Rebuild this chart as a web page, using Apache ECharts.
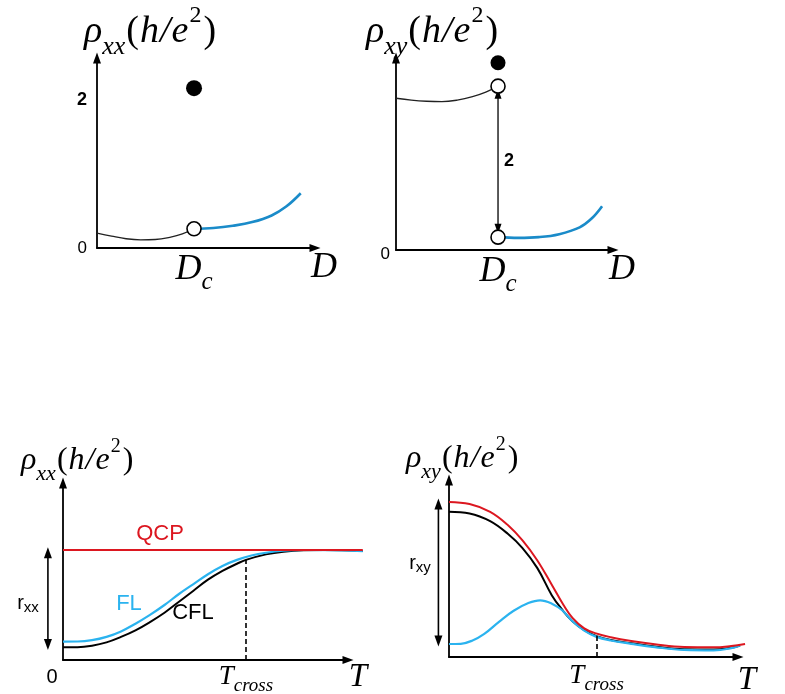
<!DOCTYPE html>
<html>
<head>
<meta charset="utf-8">
<script src="https://cdn.jsdelivr.net/npm/echarts@6/dist/echarts.min.js"></script>
<style>
  html, body { margin: 0; padding: 0; background: #ffffff; }
  #chart { width: 785px; height: 694px; }
</style>
</head>
<body>
<div id="chart"></div>
<script>
// ---------- Top row: resistivity against disorder D (critical point D_c = 1) ----------
const dCritical = 1;
const rhoXXBelowDc = [[0, 0.20], [0.15, 0.16], [0.3, 0.125], [0.45, 0.11], [0.6, 0.115], [0.75, 0.145], [0.88, 0.19], [1, 0.26]];
const rhoXXAboveDc = [[1, 0.26], [1.2, 0.27], [1.4, 0.30], [1.6, 0.35], [1.8, 0.44], [1.95, 0.56], [2.1, 0.74]];
const rhoXXAtDc = [[1, 2.16]];
const rhoXXLimitAtDc = [[1, 0.26]];
const rhoXXTicks = [0, 2];

const rhoXYBelowDc = [[0, 2.01], [0.15, 1.985], [0.3, 1.97], [0.45, 1.965], [0.6, 1.985], [0.75, 2.03], [0.88, 2.09], [1, 2.17]];
const rhoXYAboveDc = [[1, 0.17], [1.2, 0.16], [1.4, 0.17], [1.6, 0.21], [1.8, 0.30], [1.92, 0.42], [2.02, 0.58]];
const rhoXYAtDc = [[1, 2.48]];
const rhoXYLimitsAtDc = [[1, 2.17], [1, 0.17]];
const rhoXYJump = [2.07, 0.28];          // span of the quantised jump arrow
const rhoXYJumpLabel = '2';
const rhoXYTicks = [0];

// ---------- Bottom row: temperature dependence ----------
const tCrossXX = 6.31;
const tempQCPxx = [[0, 1.0], [5, 1.0], [10.34, 1.0]];
const tempFLxx = [[0, 0.167], [0.5, 0.168], [1.0, 0.18], [1.5, 0.21], [2.0, 0.26], [2.5, 0.33], [3.0, 0.41],
                  [3.5, 0.50], [4.0, 0.60], [4.5, 0.69], [5.0, 0.78], [5.5, 0.855], [6.0, 0.91], [6.5, 0.95],
                  [7.0, 0.975], [7.6, 0.993], [8.3, 1.0], [10.34, 0.99]];
const tempCFLxx = [[0, 0.115], [0.5, 0.116], [1.0, 0.13], [1.5, 0.16], [2.0, 0.21], [2.5, 0.27], [3.0, 0.345],
                   [3.5, 0.43], [4.0, 0.53], [4.5, 0.63], [5.0, 0.73], [5.5, 0.81], [6.0, 0.875], [6.31, 0.91],
                   [7.0, 0.96], [7.6, 0.985], [8.3, 0.998], [9.0, 1.0], [10.34, 0.99]];
const rangeXX = [0.14, 0.975];          // r_xx arrow span (between arrow-head centres)
const labelsXX = { qcp: 'QCP', fl: 'FL', cfl: 'CFL', range: 'xx' };

const tCrossXY = 5.02;
const tempQCPxy = [[0, 1.41], [0.7, 1.39], [1.4, 1.32], [2.0, 1.20], [2.5, 1.06], [3.0, 0.88], [3.5, 0.655],
                   [3.9, 0.47], [4.2, 0.355], [4.6, 0.26], [5.0, 0.215], [5.5, 0.18], [6.2, 0.145], [7.0, 0.115],
                   [8.0, 0.09], [9.0, 0.088], [9.6, 0.10], [10.07, 0.118]];
const tempCFLxy = [[0, 1.32], [0.7, 1.305], [1.4, 1.235], [2.0, 1.12], [2.5, 0.99], [3.0, 0.81], [3.5, 0.56],
                   [3.85, 0.43], [4.2, 0.325], [4.6, 0.245], [5.02, 0.19], [5.5, 0.155], [6.2, 0.125], [7.0, 0.095],
                   [8.0, 0.07], [9.0, 0.068], [9.6, 0.085], [9.9, 0.105]];
const tempFLxy = [[0, 0.118], [0.4, 0.12], [0.8, 0.15], [1.2, 0.21], [1.7, 0.32], [2.2, 0.42], [2.7, 0.49],
                  [3.1, 0.515], [3.5, 0.485], [3.85, 0.425], [4.2, 0.325], [4.6, 0.24], [5.0, 0.185], [5.5, 0.15],
                  [6.2, 0.12], [7.0, 0.09], [8.0, 0.064], [9.0, 0.06], [9.6, 0.08], [9.9, 0.104]];
const rangeXY = [1.39, 0.145];          // r_xy arrow span (between arrow-head centres)

// ---------- styling ----------
const SERIF = 'Liberation Serif';
const SANS = 'Liberation Sans';
const RED = '#dc1720';
const SKY = '#2bb3ef';
const DEEP_BLUE = '#1a8bc9';

function mathRich(size) {
  const lh = Math.round(size * 1.5);
  return {
    r: { fontFamily: SERIF, fontStyle: 'italic', fontSize: size, lineHeight: lh, color: '#000' },
    m: { fontFamily: SERIF, fontStyle: 'italic', fontSize: size, lineHeight: lh, padding: [0, 1, 0, 0], color: '#000' },
    n: { fontFamily: SERIF, fontSize: size, lineHeight: lh, padding: [0, 1, 0, 0], color: '#000' },
    s: { fontFamily: SERIF, fontStyle: 'italic', fontSize: Math.round(size * 0.68), verticalAlign: 'bottom', padding: [0, 1, 0, 0], color: '#000' },
    p: { fontFamily: SERIF, fontSize: Math.round(size * 0.64), verticalAlign: 'top', padding: [0, 2, 0, 0], color: '#000' }
  };
}
const resistivityTitle = sub => `{r|ρ}{s|${sub}}{n|(}{m|h}{m|/}{m|e}{p|2}{n|)}`;

function arrowAxis(extra) {
  return Object.assign({
    type: 'value',
    splitLine: { show: false },
    axisTick: { show: false },
    axisLine: {
      show: true, onZero: false,
      symbol: ['none', 'triangle'], symbolSize: [8, 11],
      lineStyle: { color: '#000', width: 1.8 }
    }
  }, extra);
}
// invisible axis used by the overlay grids of the bottom row
function hiddenAxis(extra) {
  return Object.assign({ type: 'value', show: false, splitLine: { show: false } }, extra);
}

const tickRich = {
  z: { fontFamily: SANS, fontSize: 17, color: '#000' },
  zl: { fontFamily: SANS, fontSize: 17, color: '#000', padding: [8, 0, 0, 0] },
  b: { fontFamily: SANS, fontSize: 18, fontWeight: 'bold', color: '#000' },
  o: { fontFamily: SANS, fontSize: 20, lineHeight: 36, color: '#000', padding: [0, 22, 0, 0] },
  d: { fontFamily: SERIF, fontStyle: 'italic', fontSize: 36, lineHeight: 50, color: '#000' },
  c: { fontFamily: SERIF, fontStyle: 'italic', fontSize: 25, verticalAlign: 'bottom', color: '#000' },
  t: { fontFamily: SERIF, fontStyle: 'italic', fontSize: 27, lineHeight: 36, color: '#000' },
  tc: { fontFamily: SERIF, fontStyle: 'italic', fontSize: 19, verticalAlign: 'bottom', color: '#000' }
};

function axisName(text, gap, lineHeight, size) {
  return {
    name: text, nameLocation: 'end', nameGap: gap,
    nameTextStyle: {
      fontFamily: SERIF, fontStyle: 'italic', fontSize: size, color: '#000',
      align: 'center', verticalAlign: 'top', lineHeight: lineHeight
    }
  };
}

// grids 0-3 carry the visible axes; grids 4-5 share the bottom panels' scales
// but reach one unit further on each side so annotations left of the axis fit
const grids = [
  { left: 97, top: 58, width: 218, height: 190 },
  { left: 396, top: 58, width: 217, height: 192 },
  { left: 63, top: 483, width: 285, height: 177 },
  { left: 449, top: 480, width: 289, height: 177 },
  { left: 34, top: 483, width: 343, height: 177 },
  { left: 419.6, top: 480, width: 347.8, height: 177 }
].map(g => Object.assign({ containLabel: false, outerBoundsMode: 'none' }, g));

const xAxes = [
  arrowAxis(Object.assign({
    gridIndex: 0, min: 0, max: 2.247,
    axisLabel: { customValues: [dCritical], margin: -3, formatter: v => v === dCritical ? '{d|D}{c|c}' : '', rich: tickRich }
  }, axisName('D', 9, 40, 36))),
  arrowAxis(Object.assign({
    gridIndex: 1, min: 0, max: 2.127,
    axisLabel: { customValues: [dCritical], margin: -3, formatter: v => v === dCritical ? '{d|D}{c|c}' : '', rich: tickRich }
  }, axisName('D', 9, 40, 36))),
  arrowAxis(Object.assign({
    gridIndex: 2, min: 0, max: 9.83,
    axisLabel: { customValues: [0, tCrossXX], margin: -1,
      formatter: v => v === 0 ? '{o|0}' : (v === tCrossXX ? '{t|T}{tc|cross}' : ''), rich: tickRich }
  }, axisName('T', 10, 34, 33))),
  arrowAxis(Object.assign({
    gridIndex: 3, min: 0, max: 9.83,
    axisLabel: { customValues: [tCrossXY], margin: 1,
      formatter: v => v === tCrossXY ? '{t|T}{tc|cross}' : '', rich: tickRich }
  }, axisName('T', 9, 46, 33))),
  hiddenAxis({ gridIndex: 4, min: -1, max: 10.83 }),
  hiddenAxis({ gridIndex: 5, min: -1, max: 10.83 })
];

const yAxes = [
  arrowAxis({ gridIndex: 0, min: 0, max: 2.568,
    axisLabel: { customValues: rhoXXTicks, margin: 10, formatter: v => v === 0 ? '{z|0}' : (v === 2 ? '{b|2}' : ''), rich: tickRich } }),
  arrowAxis({ gridIndex: 1, min: 0, max: 2.543,
    axisLabel: { customValues: rhoXYTicks, margin: 6, formatter: v => v === 0 ? '{zl|0}' : '', rich: tickRich } }),
  arrowAxis({ gridIndex: 2, min: 0, max: 1.609, axisLabel: { show: false } }),
  arrowAxis({ gridIndex: 3, min: 0, max: 1.609, axisLabel: { show: false } }),
  hiddenAxis({ gridIndex: 4, min: 0, max: 1.609 }),
  hiddenAxis({ gridIndex: 5, min: 0, max: 1.609 })
];

function curve(axisIdx, data, color, width, z) {
  return {
    type: 'line', xAxisIndex: axisIdx, yAxisIndex: axisIdx, data: data,
    smooth: 0.4, symbol: 'none', silent: true, z: z || 2,
    lineStyle: { color: color, width: width }
  };
}
function dots(axisIdx, data, filled, size) {
  return {
    type: 'scatter', xAxisIndex: axisIdx, yAxisIndex: axisIdx, data: data,
    symbol: 'circle', symbolSize: size, silent: true, z: 5,
    itemStyle: filled ? { color: '#000', opacity: 1 }
                      : { color: '#fff', borderColor: '#000', borderWidth: 1.6, opacity: 1 }
  };
}
// vertical double-headed arrow at a given x between two values
function doubleArrow(axisIdx, x, span, width, head) {
  const upFirst = span[0] > span[1];
  return {
    type: 'line', xAxisIndex: axisIdx, yAxisIndex: axisIdx, silent: true, z: 3,
    data: [{ value: [x, span[0]], symbolRotate: upFirst ? 0 : 180 },
           { value: [x, span[1]], symbolRotate: upFirst ? 180 : 0 }],
    symbol: 'triangle', symbolSize: head, showSymbol: true,
    itemStyle: { color: '#000', opacity: 1 },
    lineStyle: { color: '#000', width: width }
  };
}
function crossMarker(x, y) {
  return {
    silent: true, symbol: ['none', 'none'], label: { show: false },
    lineStyle: { color: '#000', width: 1.6, type: [5, 3] },
    data: [[{ coord: [x, 0] }, { coord: [x, y] }]]
  };
}

const cflXX = curve(4, tempCFLxx, '#000', 2, 2);
cflXX.markLine = crossMarker(tCrossXX, tempCFLxx.find(p => p[0] === tCrossXX)[1]);
const cflXY = curve(5, tempCFLxy, '#000', 2, 2);
cflXY.markLine = crossMarker(tCrossXY, tempCFLxy.find(p => p[0] === tCrossXY)[1]);

const series = [
  // disorder, longitudinal
  curve(0, rhoXXBelowDc, '#222', 1.3),
  curve(0, rhoXXAboveDc, DEEP_BLUE, 2.6),
  dots(0, rhoXXAtDc, true, 16),
  dots(0, rhoXXLimitAtDc, false, 14),
  // disorder, Hall
  curve(1, rhoXYBelowDc, '#222', 1.3),
  curve(1, rhoXYAboveDc, DEEP_BLUE, 2.6),
  doubleArrow(1, dCritical, rhoXYJump, 1.3, [7, 10]),
  dots(1, rhoXYAtDc, true, 15),
  dots(1, rhoXYLimitsAtDc, false, 14),
  // temperature, longitudinal
  cflXX,
  curve(4, tempFLxx, SKY, 2.2, 3),
  curve(4, tempQCPxx, RED, 2, 4),
  doubleArrow(4, -0.52, [rangeXX[1], rangeXX[0]], 1.6, [8, 11]),
  // temperature, Hall
  cflXY,
  curve(5, tempFLxy, SKY, 2.2, 3),
  curve(5, tempQCPxy, RED, 2, 4),
  doubleArrow(5, -0.36, rangeXY, 1.6, [8, 11])
];

const richTop = mathRich(38);
const richBottom = mathRich(32);
const graphic = [
  { type: 'text', x: 84, y: 32, style: { text: resistivityTitle('xx'), rich: richTop, align: 'left', verticalAlign: 'middle' } },
  { type: 'text', x: 366, y: 32, style: { text: resistivityTitle('xy'), rich: richTop, align: 'left', verticalAlign: 'middle' } },
  { type: 'text', x: 21, y: 461, style: { text: resistivityTitle('xx'), rich: richBottom, align: 'left', verticalAlign: 'middle' } },
  { type: 'text', x: 406, y: 459, style: { text: resistivityTitle('xy'), rich: richBottom, align: 'left', verticalAlign: 'middle' } },
  { type: 'text', x: 509, y: 161, style: { text: rhoXYJumpLabel, fontFamily: SANS, fontWeight: 'bold', fontSize: 18, fill: '#000', align: 'center', verticalAlign: 'middle' } },
  { type: 'text', x: 160, y: 534, style: { text: labelsXX.qcp, fontFamily: SANS, fontSize: 22, fill: RED, align: 'center', verticalAlign: 'middle' } },
  { type: 'text', x: 129, y: 604, style: { text: labelsXX.fl, fontFamily: SANS, fontSize: 22, fill: SKY, align: 'center', verticalAlign: 'middle' } },
  { type: 'text', x: 193, y: 613, style: { text: labelsXX.cfl, fontFamily: SANS, fontSize: 22, fill: '#000', align: 'center', verticalAlign: 'middle' } },
  { type: 'text', x: 28, y: 603, style: { text: '{r|r}{s|xx}', align: 'center', verticalAlign: 'middle',
      rich: { r: { fontFamily: SANS, fontSize: 20, lineHeight: 24, color: '#777' }, s: { fontFamily: SANS, fontSize: 15, verticalAlign: 'bottom', color: '#777' } } } },
  { type: 'text', x: 420, y: 563, style: { text: '{r|r}{s|xy}', align: 'center', verticalAlign: 'middle',
      rich: { r: { fontFamily: SANS, fontSize: 20, lineHeight: 24, color: '#777' }, s: { fontFamily: SANS, fontSize: 15, verticalAlign: 'bottom', color: '#777' } } } }
];

const chart = echarts.init(document.getElementById('chart'), null, { renderer: 'canvas' });
chart.setOption({
  backgroundColor: '#ffffff',
  animation: false,
  grid: grids,
  xAxis: xAxes,
  yAxis: yAxes,
  series: series,
  graphic: graphic
});
</script>
</body>
</html>
